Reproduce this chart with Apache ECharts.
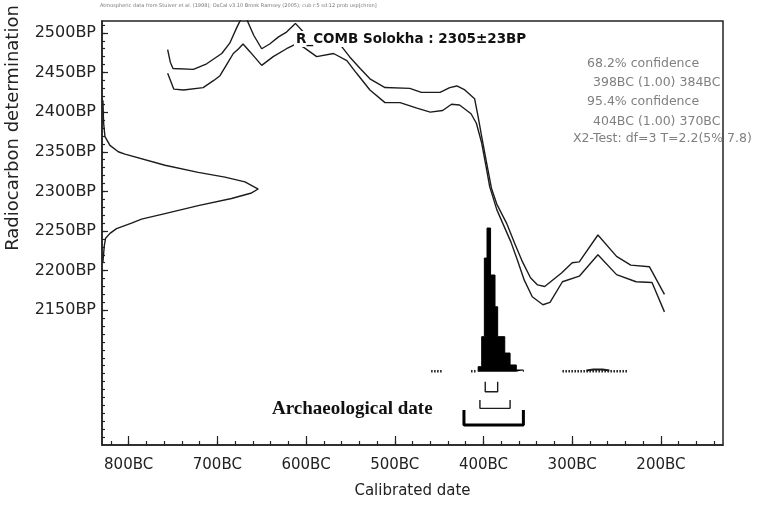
<!DOCTYPE html>
<html><head><meta charset="utf-8">
<script src="https://cdn.jsdelivr.net/npm/echarts@6/dist/echarts.min.js"></script>
<style>html,body{margin:0;padding:0;background:#fff}#c{width:761px;height:506px}</style>
</head><body><div id="c"></div>
<script>
// Calibration curve envelope (calendar year, negative = BC ; radiocarbon age BP)
const upperYear = [-756,-753,-750,-727,-712,-695,-686,-678,-670,-659,-650,-641,-631,-622,-612,-603,-590,-573,-560,-551,-539,-528,-511,-483,-470,-449,-438,-430,-421,-410,-406,-402,-397,-391,-385,-374,-365,-356,-347,-339,-331,-312,-300,-292,-271,-250,-234,-213,-196];
const upperBP   = [2479,2463,2455,2454,2461,2474,2487,2507,2525,2497,2480,2486,2495,2501,2512,2501,2491,2486,2483,2470,2455,2442,2431,2430,2425,2425,2431,2433,2428,2417,2394,2369,2339,2304,2284,2260,2235,2211,2191,2182,2180,2197,2210,2211,2245,2218,2207,2205,2170];
const lowerYear = [-756,-749,-738,-716,-704,-697,-689,-682,-676,-671,-663,-650,-637,-622,-611,-603,-588,-569,-554,-543,-528,-511,-494,-475,-460,-446,-436,-427,-414,-408,-402,-397,-393,-385,-378,-369,-362,-354,-345,-333,-325,-311,-292,-271,-250,-228,-210,-196];
const lowerBP   = [2449,2429,2428,2431,2440,2446,2461,2474,2480,2486,2476,2459,2470,2480,2486,2482,2470,2474,2465,2449,2428,2412,2412,2405,2400,2402,2410,2409,2398,2386,2361,2331,2306,2277,2259,2236,2214,2188,2167,2157,2160,2186,2193,2220,2195,2186,2185,2148];

// Radiocarbon measurement 2305±23BP (relative density vs BP)
const gaussBP      = [2415,2387,2369,2358,2350,2347,2333,2324,2318,2312,2303,2298,2291,2282,2272,2265,2260,2253,2247,2241,2232,2211];
const gaussDensity = [0.006,0.01,0.019,0.051,0.104,0.147,0.403,0.616,0.787,0.915,1.0,0.957,0.829,0.616,0.403,0.253,0.189,0.093,0.051,0.023,0.015,0.006];

// Calibrated probability distribution (bin edges in years, relative heights)
const probEdges   = [-406,-402,-399,-396,-392,-387,-384,-376,-370,-363,-355];
const probHeights = [0.035,0.244,0.791,1.0,0.673,0.452,0.244,0.13,0.047,0.012];
const tailRanges  = [[-459,-447],[-414,-408],[-311,-238]];
const tailBumpYear = [-284,-276,-266,-258];
const tailBumpProb = [0.008,0.016,0.016,0.008];

// Ranges
const range68 = [-398,-384];
const range95 = [-404,-370];
const rangeArch = [-422,-355];

// Axis ticks
const majorX = [-800,-700,-600,-500,-400,-300,-200];
const minorX = [-820,-800,-780,-760,-740,-720,-700,-680,-660,-640,-620,-600,-580,-560,-540,-520,-500,-480,-460,-440,-420,-400,-380,-360,-340,-320,-300,-280,-260,-240,-220,-200,-180,-160,-140];
const majorY = [2150,2200,2250,2300,2350,2400,2450,2500];
const minorY = [1990,2000,2010,2020,2030,2040,2050,2060,2070,2080,2090,2100,2110,2120,2130,2140,2150,2160,2170,2180,2190,2200,2210,2220,2230,2240,2250,2260,2270,2280,2290,2300,2310,2320,2330,2340,2350,2360,2370,2380,2390,2400,2410,2420,2430,2440,2450,2460,2470,2480,2490,2500,2510];

const infoLines = ['68.2% confidence','398BC (1.00) 384BC','95.4% confidence','404BC (1.00) 370BC','X2-Test: df=3 T=2.2(5% 7.8)'];

const upperData = upperYear.map((x,i)=>[x, upperBP[i]]);
const lowerData = lowerYear.map((x,i)=>[x, lowerBP[i]]);
const gaussData = gaussBP.map((b,i)=>[gaussDensity[i], b]);
const histData = [[probEdges[0],0]];
for (let i=0;i<probHeights.length;i++){ histData.push([probEdges[i],probHeights[i]]); histData.push([probEdges[i+1],probHeights[i]]); }
histData.push([probEdges[probEdges.length-1],0]);
function bracket(r, top, bottom){ return [[r[0],top],[r[0],bottom],[r[1],bottom],[r[1],top]]; }

const INK = '#1c1c1c';
const lineBase = {type:'line', symbol:'none', showSymbol:false, silent:true, animation:false};

const series = [
  Object.assign({}, lineBase, {data: upperData, lineStyle:{color:INK,width:1.4}}),
  Object.assign({}, lineBase, {data: lowerData, lineStyle:{color:INK,width:1.4}}),
  Object.assign({}, lineBase, {data: gaussData, xAxisIndex:2, yAxisIndex:0, lineStyle:{color:INK,width:1.4}}),
  Object.assign({}, lineBase, {data: histData, xAxisIndex:0, yAxisIndex:2, lineStyle:{color:'#000',width:1}, areaStyle:{color:'#000',opacity:1}}),
  Object.assign({}, lineBase, {data: tailBumpYear.map((x,i)=>[x,tailBumpProb[i]]), xAxisIndex:0, yAxisIndex:2, lineStyle:{color:INK,width:2}}),
  Object.assign({}, lineBase, {data: bracket(range68,-0.07,-0.139), xAxisIndex:0, yAxisIndex:2, lineStyle:{color:INK,width:1.4}}),
  Object.assign({}, lineBase, {data: bracket(range95,-0.197,-0.255), xAxisIndex:0, yAxisIndex:2, lineStyle:{color:INK,width:1.4}}),
  Object.assign({}, lineBase, {data: bracket(rangeArch,-0.267,-0.371), xAxisIndex:0, yAxisIndex:2, lineStyle:{color:'#000',width:3}})
];
tailRanges.forEach(r=>{
  series.push(Object.assign({}, lineBase, {data:[[r[0],0.004],[r[1],0.004]], xAxisIndex:0, yAxisIndex:2, lineStyle:{color:INK,width:2.5,type:[1.5,1.5]}}));
});

const graphics = [
  {type:'text', x:100, y:3, style:{text:'Atmospheric data from Stuiver et al. (1998); OxCal v3.10 Bronk Ramsey (2005); cub r:5 sd:12 prob usp[chron]', fill:'#777', font:'5px "DejaVu Sans"'}},
  {type:'text', x:13, y:128, rotation:Math.PI/2, style:{text:'Radiocarbon determination', fill:'#222', font:'18px "DejaVu Sans"', textAlign:'center', textVerticalAlign:'middle'}},
  {type:'text', x:272, y:409, style:{text:'Archaeological date', fill:'#111', font:'bold 19px "Liberation Serif"', textVerticalAlign:'middle'}}
];
const infoX = [587,593,587,593,573];
const infoY = [64,83,102,122,139];
infoLines.forEach((t,i)=>graphics.push({type:'text', x:infoX[i], y:infoY[i], z:10, style:{text:t, fill:'#808080', font:'12.5px "DejaVu Sans"', textVerticalAlign:'middle'}}));

const option = {
  backgroundColor:'#fff',
  animation:false,
  title:{text:'R_COMB Solokha : 2305±23BP', left:294, top:31, padding:[1,2], backgroundColor:'#fff',
    textStyle:{fontFamily:'DejaVu Sans', fontWeight:'bold', fontSize:13.5, color:'#111'}},
  grid:{left:102, right:38, top:21, bottom:61, show:true, borderColor:'#222', borderWidth:1.5, backgroundColor:'transparent'},
  xAxis:[
    {type:'value', min:-830, max:-130, position:'bottom',
     axisLine:{onZero:false, lineStyle:{color:'#222', width:1.5}},
     axisTick:{inside:true, length:9, customValues:majorX, lineStyle:{color:'#222', width:1.2}},
     axisLabel:{customValues:majorX, formatter:v=>(-v)+'BC', color:'#222', fontFamily:'DejaVu Sans', fontSize:15, margin:13},
     splitLine:{show:false},
     name:'Calibrated date', nameLocation:'middle', nameGap:39,
     nameTextStyle:{color:'#222', fontFamily:'DejaVu Sans', fontSize:15}},
    {type:'value', min:-830, max:-130, position:'bottom',
     axisLine:{show:false, onZero:false},
     axisTick:{inside:true, length:4, customValues:minorX, lineStyle:{color:'#222', width:1.2}},
     axisLabel:{show:false}, splitLine:{show:false}},
    {type:'value', min:0, max:3.975, show:false, position:'top', axisLine:{onZero:false}, splitLine:{show:false}}
  ],
  yAxis:[
    {type:'value', min:1980, max:2515, position:'left',
     axisLine:{onZero:false, lineStyle:{color:'#222', width:1.5}},
     axisTick:{inside:true, length:6, customValues:majorY, lineStyle:{color:'#222', width:1.2}},
     axisLabel:{customValues:majorY, formatter:v=>v+'BP', color:'#222', fontFamily:'DejaVu Sans', fontSize:16, margin:6},
     splitLine:{show:false}},
    {type:'value', min:1980, max:2515, position:'left',
     axisLine:{show:false, onZero:false},
     axisTick:{inside:true, length:3, customValues:minorY, lineStyle:{color:'#222', width:1.2}},
     axisLabel:{show:false}, splitLine:{show:false}},
    {type:'value', min:-0.51, max:2.441, show:false, position:'right', axisLine:{onZero:false}, splitLine:{show:false}}
  ],
  graphic: graphics,
  series: series
};
const chart = echarts.init(document.getElementById('c'));
chart.setOption(option);
</script>
</body></html>
